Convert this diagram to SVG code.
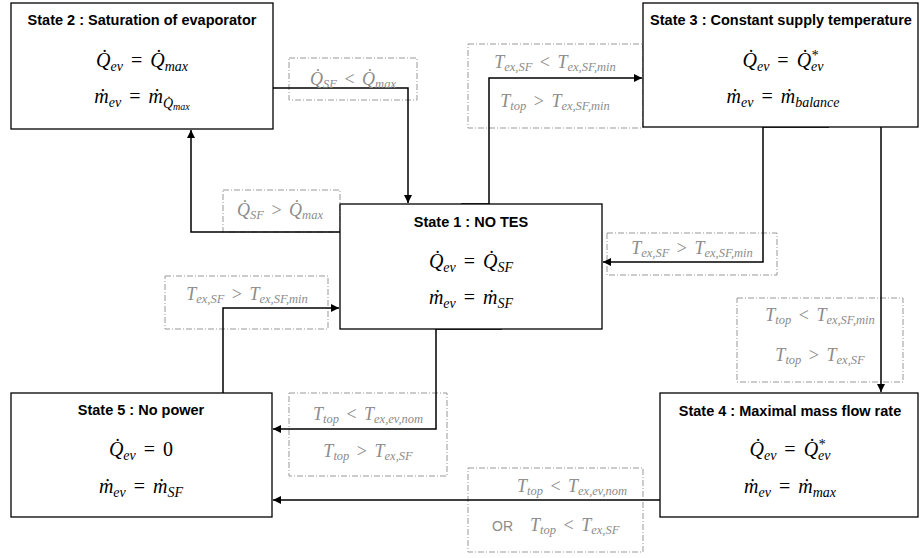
<svg xmlns="http://www.w3.org/2000/svg" width="920" height="558" viewBox="0 0 920 558">
<defs>
<marker id="arr" viewBox="0 0 10 10" refX="10" refY="5" markerWidth="8" markerHeight="8" markerUnits="userSpaceOnUse" orient="auto">
<path d="M0,0 L10,5 L0,10 z" fill="#000"/>
</marker>
<style>
.state{fill:#fff;stroke:#000;stroke-width:1.3}
.cond{fill:none;stroke:#999;stroke-width:1;stroke-dasharray:6 2 1 2}
.title{font-family:"Liberation Sans",Arial,sans-serif;font-weight:bold;font-size:14.5px;fill:#000;text-anchor:middle}
.eq{font-family:"Liberation Serif","DejaVu Serif",serif;font-style:italic;font-size:20px;fill:#000;text-anchor:middle}
.ct{font-family:"Liberation Serif","DejaVu Serif",serif;font-style:italic;font-size:18px;fill:#8c8c8c;text-anchor:middle}
.eq .s{font-size:14px}
.ct .s{font-size:12.5px}
.ss{font-size:10px}
.u{font-style:normal}
.or{font-family:"Liberation Sans",Arial,sans-serif;font-style:normal;font-size:14px;fill:#8c8c8c}
.conn{fill:none;stroke:#000;stroke-width:1.5}
</style>
</defs>
<rect width="920" height="558" fill="#fff"/>

<g id="conditions">
<rect class="cond" x="289" y="58" width="128" height="42"/>
<rect class="cond" x="468" y="44" width="175" height="84"/>
<rect class="cond" x="223" y="190" width="117" height="42"/>
<rect class="cond" x="165" y="276" width="163" height="53"/>
<rect class="cond" x="607" y="233" width="170" height="42"/>
<rect class="cond" x="737" y="298" width="166" height="84"/>
<rect class="cond" x="289" y="393" width="158" height="83"/>
<rect class="cond" x="468" y="468" width="175" height="84"/>
</g>

<g id="connectors">
<path class="conn" d="M273,88 H408 V203" marker-end="url(#arr)"/>
<path class="conn" d="M340,232 H191 V130" marker-end="url(#arr)"/>
<path class="conn" d="M461,204 H489 V78 H642" marker-end="url(#arr)"/>
<path class="conn" d="M829,127 H763 V262 H603" marker-end="url(#arr)"/>
<path class="conn" d="M881,127 V392" marker-end="url(#arr)"/>
<path class="conn" d="M502,329 H436 V429 H273" marker-end="url(#arr)"/>
<path class="conn" d="M660,500 H273" marker-end="url(#arr)"/>
<path class="conn" d="M223,393 V308 H339" marker-end="url(#arr)"/>
</g>

<g id="state2">
<rect class="state" x="11" y="3" width="262" height="126"/>
<text class="title" x="142" y="25">State 2 : Saturation of evaporator</text>
<text class="eq" x="142" y="67">Q̇<tspan class="s" dy="4">ev</tspan><tspan class="u" dx="3" dy="-4"> = </tspan><tspan dx="3">Q̇</tspan><tspan class="s" dy="4">max</tspan></text>
<text class="eq" x="142" y="103">ṁ<tspan class="s" dy="4">ev</tspan><tspan class="u" dx="3" dy="-4"> = </tspan><tspan dx="3">ṁ</tspan><tspan class="s" dy="5">Q̇</tspan><tspan class="ss" dy="2">max</tspan></text>
</g>

<g id="state3">
<rect class="state" x="643" y="3" width="275" height="124"/>
<text class="title" x="781" y="25">State 3 : Constant supply temperature</text>
<text class="eq" x="783" y="67">Q̇<tspan class="s" dy="4">ev</tspan><tspan class="u" dx="3" dy="-4"> = </tspan><tspan dx="3">Q̇</tspan><tspan class="s" dy="-7">*</tspan><tspan class="s" dx="-7" dy="11">ev</tspan></text>
<text class="eq" x="783" y="103">ṁ<tspan class="s" dy="4">ev</tspan><tspan class="u" dx="3" dy="-4"> = </tspan><tspan dx="3">ṁ</tspan><tspan class="s" dy="4">balance</tspan></text>
</g>

<g id="state1">
<rect class="state" x="340" y="204" width="262" height="125"/>
<text class="title" x="471" y="227">State 1 : NO TES</text>
<text class="eq" x="471" y="268">Q̇<tspan class="s" dy="4">ev</tspan><tspan class="u" dx="3" dy="-4"> = </tspan><tspan dx="3">Q̇</tspan><tspan class="s" dy="4">SF</tspan></text>
<text class="eq" x="471" y="304">ṁ<tspan class="s" dy="4">ev</tspan><tspan class="u" dx="3" dy="-4"> = </tspan><tspan dx="3">ṁ</tspan><tspan class="s" dy="4">SF</tspan></text>
</g>

<g id="state5">
<rect class="state" x="11" y="393" width="261" height="124"/>
<text class="title" x="141" y="415">State 5 : No power</text>
<text class="eq" x="141" y="456">Q̇<tspan class="s" dy="4">ev</tspan><tspan class="u" dx="3" dy="-4"> = </tspan><tspan class="u" dx="3">0</tspan></text>
<text class="eq" x="141" y="493">ṁ<tspan class="s" dy="4">ev</tspan><tspan class="u" dx="3" dy="-4"> = </tspan><tspan dx="3">ṁ</tspan><tspan class="s" dy="4">SF</tspan></text>
</g>

<g id="state4">
<rect class="state" x="660" y="393" width="258" height="124"/>
<text class="title" x="790" y="416">State 4 : Maximal mass flow rate</text>
<text class="eq" x="790" y="456">Q̇<tspan class="s" dy="4">ev</tspan><tspan class="u" dx="3" dy="-4"> = </tspan><tspan dx="3">Q̇</tspan><tspan class="s" dy="-7">*</tspan><tspan class="s" dx="-7" dy="11">ev</tspan></text>
<text class="eq" x="790" y="493">ṁ<tspan class="s" dy="4">ev</tspan><tspan class="u" dx="3" dy="-4"> = </tspan><tspan dx="3">ṁ</tspan><tspan class="s" dy="4">max</tspan></text>
</g>

<g id="condition-texts">
<text class="ct" x="353" y="85">Q̇<tspan class="s" dy="3">SF</tspan><tspan class="u" dx="3" dy="-3"> &lt; </tspan><tspan dx="3">Q̇</tspan><tspan class="s" dy="3">max</tspan></text>
<text class="ct" x="555" y="68">T<tspan class="s" dy="3">ex,SF</tspan><tspan class="u" dx="3" dy="-3"> &lt; </tspan><tspan dx="3">T</tspan><tspan class="s" dy="3">ex,SF,min</tspan></text>
<text class="ct" x="555" y="107">T<tspan class="s" dy="3">top</tspan><tspan class="u" dx="3" dy="-3"> &gt; </tspan><tspan dx="3">T</tspan><tspan class="s" dy="3">ex,SF,min</tspan></text>
<text class="ct" x="280" y="216">Q̇<tspan class="s" dy="3">SF</tspan><tspan class="u" dx="3" dy="-3"> &gt; </tspan><tspan dx="3">Q̇</tspan><tspan class="s" dy="3">max</tspan></text>
<text class="ct" x="247" y="300">T<tspan class="s" dy="3">ex,SF</tspan><tspan class="u" dx="3" dy="-3"> &gt; </tspan><tspan dx="3">T</tspan><tspan class="s" dy="3">ex,SF,min</tspan></text>
<text class="ct" x="692" y="254">T<tspan class="s" dy="3">ex,SF</tspan><tspan class="u" dx="3" dy="-3"> &gt; </tspan><tspan dx="3">T</tspan><tspan class="s" dy="3">ex,SF,min</tspan></text>
<text class="ct" x="820" y="321">T<tspan class="s" dy="3">top</tspan><tspan class="u" dx="3" dy="-3"> &lt; </tspan><tspan dx="3">T</tspan><tspan class="s" dy="3">ex,SF,min</tspan></text>
<text class="ct" x="820" y="361">T<tspan class="s" dy="3">top</tspan><tspan class="u" dx="3" dy="-3"> &gt; </tspan><tspan dx="3">T</tspan><tspan class="s" dy="3">ex,SF</tspan></text>
<text class="ct" x="368" y="420">T<tspan class="s" dy="3">top</tspan><tspan class="u" dx="3" dy="-3"> &lt; </tspan><tspan dx="3">T</tspan><tspan class="s" dy="3">ex,ev,nom</tspan></text>
<text class="ct" x="368" y="457">T<tspan class="s" dy="3">top</tspan><tspan class="u" dx="3" dy="-3"> &gt; </tspan><tspan dx="3">T</tspan><tspan class="s" dy="3">ex,SF</tspan></text>
<text class="ct" x="572" y="492">T<tspan class="s" dy="3">top</tspan><tspan class="u" dx="3" dy="-3"> &lt; </tspan><tspan dx="3">T</tspan><tspan class="s" dy="3">ex,ev,nom</tspan></text>
<text class="or" x="492" y="531">OR</text>
<text class="ct" x="530" y="531" style="text-anchor:start">T<tspan class="s" dy="3">top</tspan><tspan class="u" dx="3" dy="-3"> &lt; </tspan><tspan dx="3">T</tspan><tspan class="s" dy="3">ex,SF</tspan></text>
</g>
</svg>
